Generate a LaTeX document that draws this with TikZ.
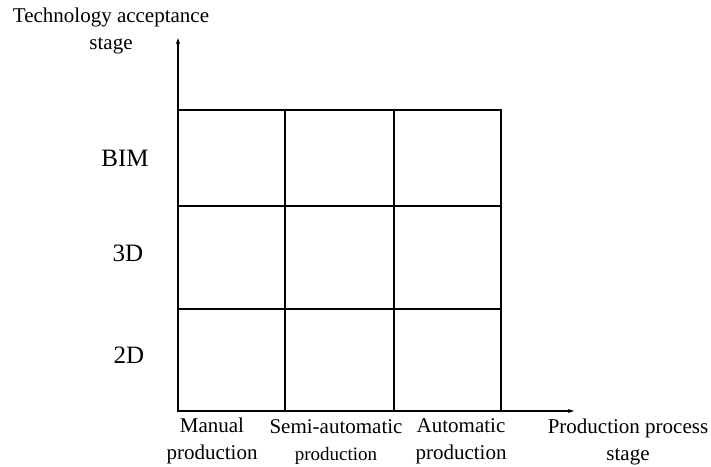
\documentclass[tikz,border=0pt]{standalone}
\usepackage{fontspec}
\setmainfont{Liberation Serif}
\usetikzlibrary{arrows.meta}

\begin{document}
\begin{tikzpicture}[x=1pt, y=-1pt, line width=1.6pt,
    lab/.style={font=\fontsize{21}{27}\selectfont, align=center, inner sep=0pt},
    row/.style={lab, font=\fontsize{25}{27}\selectfont},
    axis/.style={-{Stealth[length=6pt, width=4pt]}, line width=1.2pt}]
    \useasboundingbox (0,0) rectangle (711,466);

    % 原点与坐标轴端点
    \coordinate (o) at (178,411);
    \coordinate (ytop) at (178,38);
    \coordinate (xend) at (574,411);

    % 网格角点
    \coordinate (g00) at (178,110);
    \coordinate (g11) at (501,411);

    % 坐标轴
    \draw[axis] (o) -- (ytop);
    \draw[axis] (o) -- (xend);

    % 3x3 网格
    \draw (g00) rectangle (g11);
    \draw (285,110) -- (285,411);
    \draw (394,110) -- (394,411);
    \draw (178,206) -- (501,206);
    \draw (178,309) -- (501,309);

    % 纵轴标签
    \node[lab] (ylab) at (111,31) {Technology acceptance\\stage};
    \node[row] (bim) at (125,158) {BIM};
    \node[row] (d3) at (128,253) {3D};
    \node[row] (d2) at (129,355) {2D};

    % 横轴标签
    \node[lab] (manual) at (212,441) {Manual\\production};
    \node[lab] (semi) at (336,442) {Semi-automatic\\{\fontsize{19}{27}\selectfont production}};
    \node[lab] (auto) at (461,441) {Automatic\\production};
    \node[lab] (xlab) at (628,442) {Production process\\stage};
\end{tikzpicture}
\end{document}
